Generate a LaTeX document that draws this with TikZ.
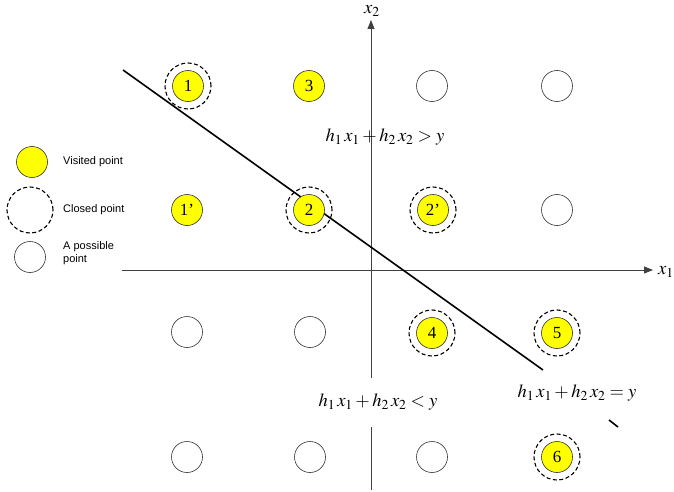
\documentclass[tikz,border=0pt]{standalone}
\usepackage{mathptmx}
\usepackage{fontspec}
\setmainfont{Liberation Serif}
\newfontfamily\legfont{Liberation Sans}
\usetikzlibrary{arrows.meta}
\definecolor{visit}{RGB}{255,255,0}
\tikzset{
  pt/.style={circle,draw=black!80,line width=0.6pt,minimum size=31pt,inner sep=0pt,font=\fontsize{17}{17}\selectfont},
  vis/.style={pt,fill=visit},
  closed/.style={circle,draw=black,dashed,dash pattern=on 4pt off 2.5pt,line width=1.1pt,minimum size=46pt,inner sep=0pt},
  axis/.style={draw=black!75,line width=0.8pt},
  eq/.style={font=\fontsize{18.5}{18.5}\selectfont,inner sep=1pt},
  leg/.style={font=\legfont\fontsize{11}{13}\selectfont,anchor=west,align=left,inner sep=0pt},
  sepline/.style={line width=1.6pt,black}
}
\newcommand{\hsum}[1]{$h_1\,x_1+h_2\,x_2#1y$}
\begin{document}
\begin{tikzpicture}[x=1pt,y=-1pt]
\useasboundingbox (0,0) rectangle (674,492);
% axes
\coordinate (ytop) at (371,20);
\coordinate (ybreak1) at (371,378);
\coordinate (ybreak2) at (371,427);
\coordinate (ybot) at (371,490);
\coordinate (xleft) at (122,270);
\coordinate (xright) at (653,270);
\draw[axis,-{Triangle[length=9pt,width=7pt]}] (ybreak1) -- (ytop);
\draw[axis] (ybreak2) -- (ybot);
\draw[axis,-{Triangle[length=9pt,width=7pt]}] (xleft) -- (xright);
\node[eq] (x2lab) at (372,11) {$x_2$};
\node[eq] (x1lab) at (666,272) {$x_1$};
% closed rings
\node[closed] (c1) at (188,86) {};
\node[closed] (c2) at (309,210) {};
\node[closed] (c2p) at (433,210) {};
\node[closed] (c4) at (432,333) {};
\node[closed] (c5) at (557,333) {};
\node[closed] (c6) at (557,457) {};
% separating line
\coordinate (la) at (123,70);
\coordinate (lb) at (543,370);
\coordinate (lc) at (609,420);
\coordinate (ld) at (618,427);
\draw[sepline] (la) -- (lb);
\draw[sepline] (lc) -- (ld);
% grid points
\node[vis] (p1) at (188,86) {1};
\node[vis] (p3) at (309,86) {3};
\node[pt] (p13) at (432,86) {};
\node[pt] (p14) at (557,86) {};
\node[vis] (p1p) at (187,210) {1'};
\node[vis] (p2) at (309,210) {2};
\node[vis] (p2p) at (433,210) {2'};
\node[pt] (p24) at (557,210) {};
\node[pt] (p31) at (187,332) {};
\node[pt] (p32) at (310,332) {};
\node[vis] (p4) at (432,333) {4};
\node[vis] (p5) at (557,333) {5};
\node[pt] (p41) at (187,457) {};
\node[pt] (p42) at (310,457) {};
\node[pt] (p43) at (432,457) {};
\node[vis] (p6) at (557,457) {6};
% equations
\node[eq] (eqgt) at (385,137) {\hsum{>}};
\node[eq] (eqlt) at (378,402) {\hsum{<}};
\node[eq] (eqeq) at (577,393) {\hsum{=}};
% legend
\node[vis] (lv) at (32,162) {};
\node[closed] (lc2) at (30,210) {};
\node[pt] (lp) at (30,257) {};
\node[leg] (tv) at (63,162) {Visited point};
\node[leg] (tc) at (63,210) {Closed point};
\node[leg] (tp) at (63,253) {A possible\\point};
\end{tikzpicture}
\end{document}
